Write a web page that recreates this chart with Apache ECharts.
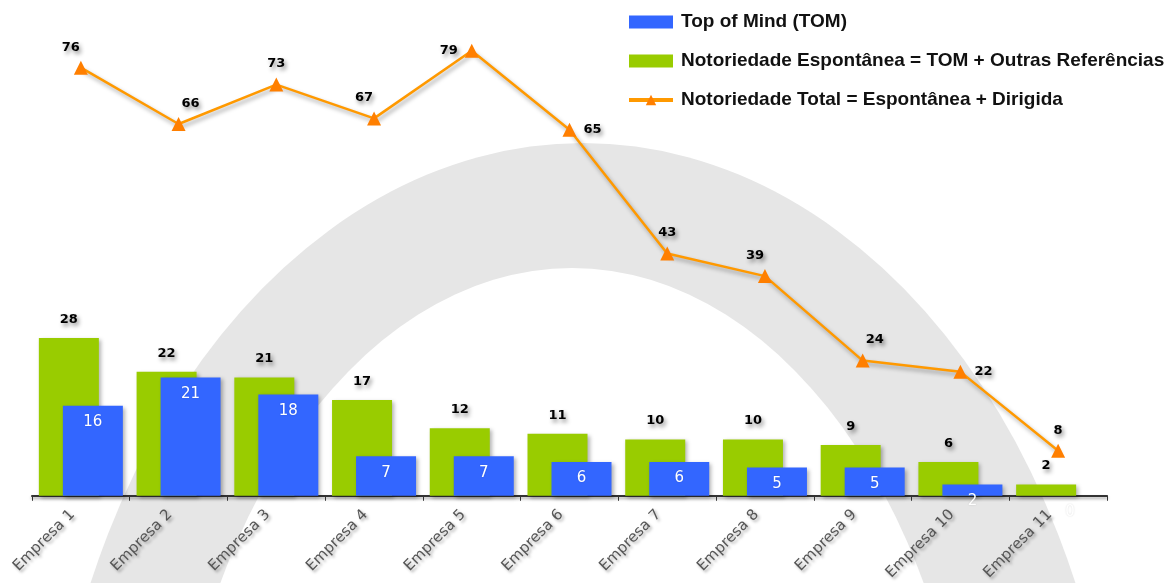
<!DOCTYPE html>
<html>
<head>
<meta charset="utf-8">
<script src="https://cdn.jsdelivr.net/npm/echarts@6/dist/echarts.min.js"></script>
<style>html,body{margin:0;padding:0;background:#fff;}#c{width:1174px;height:583px;}</style>
</head>
<body>
<div id="c"></div>
<script>
const categories = ['Empresa 1','Empresa 2','Empresa 3','Empresa 4','Empresa 5','Empresa 6','Empresa 7','Empresa 8','Empresa 9','Empresa 10','Empresa 11'];
const tomValues = [16, 21, 18, 7, 7, 6, 6, 5, 5, 2, 0];
const espontaneaValues = [28, 22, 21, 17, 12, 11, 10, 10, 9, 6, 2];
const totalValues = [76, 66, 73, 67, 79, 65, 43, 39, 24, 22, 8];
const seriesNames = ['Top of Mind (TOM)', 'Notoriedade Espontânea = TOM + Outras Referências', 'Notoriedade Total = Espontânea + Dirigida'];

// label placement for the line labels (layout only)
const lineLabelPos = ['topLeft','topRight','top','topLeft','left','right','top','topLeft','topRight','right','top'];
const posMap = {
  top: {position:'top', offset:[0,-2]},
  topLeft: {position:'top', offset:[-10,-2]},
  topRight: {position:'top', offset:[12,-2]},
  left: {position:'left', offset:[-2,0]},
  right: {position:'right', offset:[2,0]}
};

const shadowTxt = {textShadowColor:'rgba(0,0,0,0.45)', textShadowBlur:4, textShadowOffsetX:2, textShadowOffsetY:3};

const chart = echarts.init(document.getElementById('c'), null, {renderer:'canvas'});
chart.setOption({
  backgroundColor:'#fff',
  animation:false,
  graphic:[
    {type:'circle', x:583, y:883, shape:{cx:0, cy:0, r:740}, scaleX:0.728, style:{fill:'#e6e6e6'}, z:-10, silent:true},
    {type:'circle', x:572, y:883, shape:{cx:0, cy:0, r:615}, scaleX:0.655, style:{fill:'#ffffff'}, z:-9, silent:true}
  ],
  legend:{
    orient:'vertical', left:622, top:6,
    itemWidth:44, itemHeight:13, itemGap:17,
    textStyle:{fontFamily:'Liberation Sans', fontWeight:'bold', fontSize:19, color:'#111', lineHeight:22, padding:[0,0,0,3]},
    data:[{name:seriesNames[0], icon:'rect'},{name:seriesNames[1], icon:'rect'},{name:seriesNames[2], lineStyle:{width:4}}]
  },
  grid:{left:32, right:67, bottom:86, top:17},
  xAxis:{
    type:'category', data:categories, boundaryGap:true,
    axisLine:{lineStyle:{color:'#333', width:2, shadowColor:'rgba(0,0,0,0.35)', shadowBlur:3, shadowOffsetY:2}},
    axisTick:{show:true, length:5, lineStyle:{color:'#333'}},
    axisLabel:{rotate:45, fontFamily:'DejaVu Sans', fontSize:15, color:'#555', margin:8, interval:0, padding:[0,12,0,0],
      textShadowColor:'rgba(0,0,0,0.35)', textShadowBlur:3, textShadowOffsetX:2, textShadowOffsetY:2}
  },
  yAxis:{type:'value', min:0, max:85, show:false, splitLine:{show:false}},
  series:[
    {
      name:seriesNames[1], type:'bar', data:espontaneaValues, barWidth:60, barGap:'-60%', z:2,
      itemStyle:{color:'#99cc00', shadowColor:'rgba(0,0,0,0.3)', shadowBlur:4, shadowOffsetX:2, shadowOffsetY:2},
      label:Object.assign({show:true, position:'top', distance:12, fontFamily:'DejaVu Sans', fontWeight:'bold', fontSize:13, color:'#000'}, shadowTxt)
    },
    {
      name:seriesNames[0], type:'bar', data:tomValues, barWidth:60, barGap:'-60%', z:3,
      itemStyle:{color:'#3366ff', shadowColor:'rgba(0,0,0,0.3)', shadowBlur:4, shadowOffsetX:2, shadowOffsetY:2},
      label:{show:true, position:'insideTop', distance:9, fontFamily:'DejaVu Sans', fontSize:15, color:'#fff',
        textShadowColor:'rgba(0,0,0,0.15)', textShadowBlur:2}
    },
    {
      name:seriesNames[2], type:'line', z:5,
      data:totalValues.map((v,i)=>({value:v, label:posMap[lineLabelPos[i]]})),
      symbol:'triangle', symbolSize:14,
      itemStyle:{color:'#ff7f00'},
      lineStyle:{color:'#ff9900', width:2.5, shadowColor:'rgba(0,0,0,0.35)', shadowBlur:4, shadowOffsetX:2, shadowOffsetY:3},
      label:Object.assign({show:true, fontFamily:'DejaVu Sans', fontWeight:'bold', fontSize:13, color:'#000'}, shadowTxt)
    }
  ]
});
</script>
</body>
</html>
